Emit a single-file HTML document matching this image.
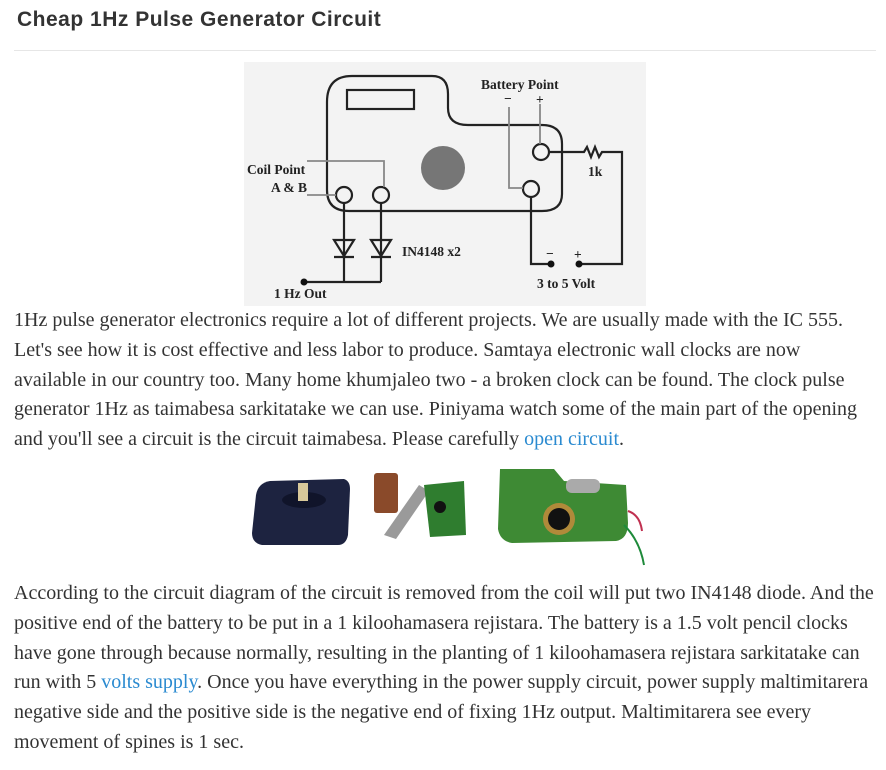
<!DOCTYPE html>
<html><head><style>
body{margin:0;background:#fff;width:886px;height:770px;position:relative;overflow:hidden}
h1{position:absolute;left:17px;top:8px;margin:0;font:bold 21px "Liberation Sans",sans-serif;letter-spacing:0.5px;color:#333}
.hr{position:absolute;left:14px;top:50px;width:862px;height:1px;background:#e6e6e6}
p{position:absolute;left:14px;width:866px;margin:0;font:20px/29.8px "Liberation Serif",serif;color:#333}
a{color:#2a8ad0;text-decoration:none}
svg text{font-family:"Liberation Serif",serif;font-weight:bold;font-size:13.5px;fill:#222}
</style></head><body>
<h1>Cheap 1Hz Pulse Generator Circuit</h1>
<div class="hr"></div>
<svg style="position:absolute;left:244px;top:62px" width="402" height="244" viewBox="0 0 402 244">
<rect width="402" height="244" fill="#f3f3f3"/>
<g fill="none" stroke="#222" stroke-width="2.2">
<path d="M83,40 Q83,14 108,14 L188,14 Q204,14 204,32 L204,46 Q204,63 224,63 L298,63 Q318,63 318,82 L318,132 Q318,149 298,149 L105,149 Q83,149 83,128 Z"/>
<rect x="103" y="28" width="67" height="19"/>
<circle cx="100" cy="133" r="8" fill="#f3f3f3"/>
<circle cx="137" cy="133" r="8" fill="#f3f3f3"/>
<circle cx="297" cy="90" r="8" fill="#f3f3f3"/>
<circle cx="287" cy="127" r="8" fill="#f3f3f3"/>
<path d="M100,141 V220 M137,141 V220 M60,220 H137"/>
<path d="M305,90 H340 l3,-5 l4,10 l4,-10 l4,10 l3,-5 H378 V202 H335"/>
<path d="M287,135 V202 H307"/>
<path d="M90,178 H110 L100,194 Z M127,178 H147 L137,194 Z M90,195 H110 M127,195 H147"/>
</g>
<g fill="none" stroke="#888" stroke-width="1.8">
<path d="M63,133 H92 M63,99 H140 V125 M265,45 V126 H279 M296,42 V82"/>
</g>
<circle cx="199" cy="106" r="22" fill="#767676"/>
<circle cx="60" cy="220" r="3.5" fill="#111"/>
<circle cx="307" cy="202" r="3.5" fill="#111"/>
<circle cx="335" cy="202" r="3.5" fill="#111"/>
<text x="237" y="27">Battery Point</text>
<text x="260" y="41">−</text><text x="292" y="42">+</text>
<text x="344" y="114">1k</text>
<text x="3" y="112">Coil Point</text>
<text x="63" y="130" text-anchor="end">A &amp; B</text>
<text x="158" y="194">IN4148 x2</text>
<text x="302" y="196">−</text><text x="330" y="197">+</text>
<text x="293" y="226">3 to 5 Volt</text>
<text x="30" y="236">1 Hz Out</text>
</svg>
<p style="top:306px;width:850px">1Hz pulse generator electronics require a lot of different projects. We are usually made with the IC 555. Let's see how it is cost effective and less labor to produce. Samtaya electronic wall clocks are now available in our country too. Many home khumjaleo two - a broken clock can be found. The clock pulse generator 1Hz as taimabesa sarkitatake we can use. Piniyama watch some of the main part of the opening and you'll see a circuit is the circuit taimabesa. Please carefully <a>open circuit</a>.</p>
<svg style="position:absolute;left:244px;top:455px" width="402" height="120" viewBox="0 0 402 120">
<rect width="402" height="120" fill="#fff"/>
<path d="M12,40 Q14,28 26,26 L100,24 Q106,26 106,34 L104,80 Q102,90 94,90 L18,90 Q8,88 8,78 Z" fill="#1d2340"/>
<ellipse cx="60" cy="45" rx="22" ry="8" fill="#10142a"/>
<rect x="54" y="28" width="10" height="18" fill="#d8c89a"/>
<rect x="130" y="18" width="24" height="40" rx="3" fill="#8a4a2a"/>
<path d="M140,80 L175,30 L185,36 L152,84 Z" fill="#9a9a9a"/>
<path d="M180,30 L220,26 L222,80 L186,82 Z" fill="#2f7d2f"/>
<circle cx="196" cy="52" r="6" fill="#111"/>
<path d="M256,14 L310,14 L320,26 L382,30 L384,68 Q384,84 372,86 L268,88 Q256,86 254,74 Z" fill="#3e8a34"/>
<circle cx="315" cy="64" r="16" fill="#b08a3a"/><circle cx="315" cy="64" r="11" fill="#111"/>
<rect x="322" y="24" width="34" height="14" rx="6" fill="#aaa"/>
<path d="M384,56 Q396,60 398,76" stroke="#c03050" stroke-width="2" fill="none"/>
<path d="M380,70 Q396,86 400,110" stroke="#1e8a3a" stroke-width="2" fill="none"/>
</svg>
<p style="top:579px">According to the circuit diagram of the circuit is removed from the coil will put two IN4148 diode. And the positive end of the battery to be put in a 1 kiloohamasera rejistara. The battery is a 1.5 volt pencil clocks have gone through because normally, resulting in the planting of 1 kiloohamasera rejistara sarkitatake can run with 5 <a>volts supply</a>. Once you have everything in the power supply circuit, power supply maltimitarera negative side and the positive side is the negative end of fixing 1Hz output. Maltimitarera see every movement of spines is 1 sec.</p>
</body></html>
